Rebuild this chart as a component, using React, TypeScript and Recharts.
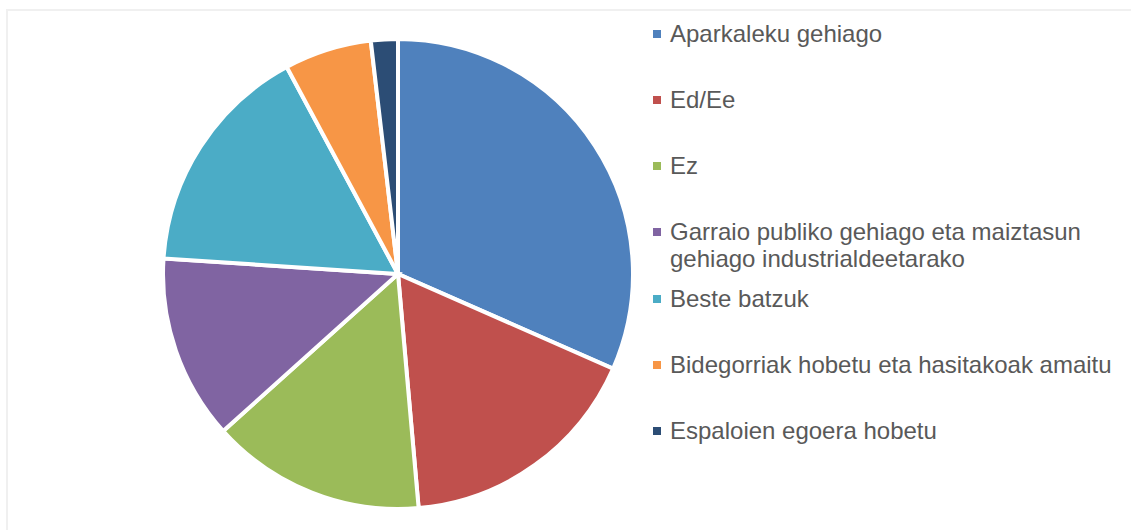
import React from "react";
import { PieChart, Pie, Cell } from "recharts";

const categories = [
  "Aparkaleku gehiago",
  "Ed/Ee",
  "Ez",
  "Garraio publiko gehiago eta maiztasun gehiago industrialdeetarako",
  "Beste batzuk",
  "Bidegorriak hobetu eta hasitakoak amaitu",
  "Espaloien egoera hobetu",
];

const values = [31.6, 17.0, 14.75, 12.7, 16.1, 6.0, 1.85];

const colors = ["#4F81BD", "#C0504D", "#9BBB59", "#8064A2", "#4BACC6", "#F79646", "#2C4D75"];

const data = categories.map((name, i) => ({ name, value: values[i] }));

export default function App() {
  return (
    <div
      style={{
        position: "absolute",
        left: 0,
        top: 0,
        width: 1131,
        height: 530,
        background: "#ffffff",
        overflow: "hidden",
        fontFamily: "'Liberation Sans', Arial, sans-serif",
      }}
    >
      <div
        style={{
          position: "absolute",
          left: 6,
          top: 9,
          width: 1140,
          height: 540,
          borderTop: "2px solid #F0F0F0",
          borderLeft: "2px solid #F0F0F0",
          boxSizing: "border-box",
        }}
      />
      <div style={{ position: "absolute", left: 0, top: 0 }}>
        <PieChart width={1131} height={530} margin={{ top: 0, right: 0, bottom: 0, left: 0 }}>
          <Pie
            data={data}
            dataKey="value"
            nameKey="name"
            cx={398}
            cy={274}
            outerRadius={235}
            startAngle={90}
            endAngle={-270}
            stroke="#ffffff"
            strokeWidth={4}
            isAnimationActive={false}
          >
            {data.map((d, i) => (
              <Cell key={d.name} fill={colors[i]} />
            ))}
          </Pie>
        </PieChart>
      </div>
      {categories.map((name, i) => (
        <div
          key={name}
          style={{
            position: "absolute",
            left: 653,
            top: 19.5 + 66.3 * i,
            display: "flex",
            alignItems: "flex-start",
          }}
        >
          <div
            style={{
              width: 8,
              height: 8,
              background: colors[i],
              marginTop: 10,
              marginRight: 9,
              flex: "none",
            }}
          />
          <div
            style={{
              width: 455,
              fontSize: 24,
              lineHeight: "27px",
              color: "#595959",
            }}
          >
            {name}
          </div>
        </div>
      ))}
    </div>
  );
}
